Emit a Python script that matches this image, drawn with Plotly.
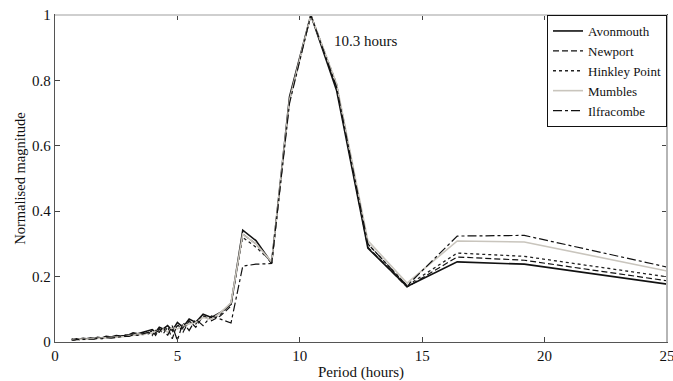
import plotly.graph_objects as go

period = [28.75, 23.0, 19.17, 16.43, 14.38, 12.78, 11.5, 10.45, 9.58, 8.85, 8.21, 7.67, 7.19,
          6.76, 6.39, 6.05, 5.75, 5.48, 5.23, 5.0, 4.79, 4.6, 4.42, 4.26, 4.11, 3.97, 3.83,
          3.59, 3.38, 3.19, 3.03, 2.88, 2.67, 2.5, 2.3, 2.09, 1.92, 1.74, 1.6, 1.44, 1.28,
          1.15, 1.0, 0.88, 0.77, 0.68]

avonmouth = [0.138, 0.198, 0.238, 0.245, 0.170, 0.287, 0.77, 1.0, 0.75, 0.242, 0.31, 0.342, 0.115,
             0.09, 0.075, 0.085, 0.06, 0.07, 0.045, 0.06, 0.035, 0.05, 0.04, 0.045, 0.03, 0.038, 0.035,
             0.03, 0.025, 0.028, 0.022, 0.02, 0.018, 0.02, 0.015, 0.017, 0.012, 0.014, 0.011, 0.012,
             0.01, 0.011, 0.009, 0.01, 0.008, 0.009]
newport = [0.147, 0.209, 0.25, 0.26, 0.168, 0.29, 0.78, 1.0, 0.74, 0.24, 0.30, 0.33, 0.11,
           0.08, 0.065, 0.08, 0.045, 0.065, 0.03, 0.055, 0.01, 0.045, 0.025, 0.04, 0.02, 0.035, 0.025,
           0.028, 0.02, 0.025, 0.018, 0.022, 0.015, 0.018, 0.013, 0.016, 0.01, 0.013, 0.009, 0.011,
           0.008, 0.01, 0.007, 0.008, 0.006, 0.008]
hinkley = [0.159, 0.221, 0.262, 0.272, 0.172, 0.30, 0.79, 1.0, 0.74, 0.245, 0.29, 0.32, 0.12,
           0.085, 0.07, 0.08, 0.055, 0.06, 0.04, 0.05, 0.03, 0.045, 0.035, 0.04, 0.025, 0.035, 0.028,
           0.025, 0.024, 0.022, 0.02, 0.02, 0.016, 0.016, 0.014, 0.014, 0.012, 0.012, 0.01, 0.01,
           0.009, 0.009, 0.008, 0.008, 0.007, 0.007]
mumbles = [0.16, 0.247, 0.306, 0.309, 0.18, 0.31, 0.79, 1.0, 0.74, 0.245, 0.30, 0.33, 0.12,
           0.09, 0.07, 0.075, 0.06, 0.055, 0.05, 0.04, 0.045, 0.03, 0.04, 0.03, 0.035, 0.025, 0.03,
           0.022, 0.025, 0.02, 0.02, 0.017, 0.016, 0.014, 0.014, 0.012, 0.012, 0.01, 0.011, 0.009,
           0.01, 0.008, 0.009, 0.007, 0.008, 0.006]
ilfracombe = [0.167, 0.262, 0.326, 0.324, 0.172, 0.30, 0.78, 1.0, 0.73, 0.24, 0.238, 0.232, 0.058,
              0.07, 0.08, 0.05, 0.07, 0.035, 0.06, 0.005, 0.05, 0.02, 0.045, 0.03, 0.035, 0.02, 0.03,
              0.025, 0.02, 0.022, 0.017, 0.018, 0.015, 0.014, 0.012, 0.013, 0.01, 0.011, 0.009, 0.009,
              0.008, 0.008, 0.007, 0.007, 0.006, 0.006]

x_ticks = [0, 5, 10, 15, 20, 25]
y_ticks = [0, 0.2, 0.4, 0.6, 0.8, 1]

series = [
    ("Avonmouth", avonmouth, dict(color="#111111", width=1.6, dash="solid")),
    ("Newport", newport, dict(color="#111111", width=1.2, dash="6px,3px")),
    ("Hinkley Point", hinkley, dict(color="#222222", width=1.3, dash="dot")),
    ("Mumbles", mumbles, dict(color="#c9c5bd", width=1.6, dash="solid")),
    ("Ilfracombe", ilfracombe, dict(color="#111111", width=1.2, dash="dashdot")),
]

fig = go.Figure()
for name, vals, line in series:
    fig.add_trace(go.Scatter(x=period, y=vals, mode="lines", name=name, line=line))

font = "Liberation Serif, Times New Roman, serif"
fig.update_layout(
    width=673, height=381,
    margin=dict(l=55, r=6, t=15, b=39),
    paper_bgcolor="white", plot_bgcolor="white",
    font=dict(family=font, size=15, color="#111111"),
    showlegend=True,
    legend=dict(x=1, y=1, xanchor="right", yanchor="top",
                bordercolor="#111111", borderwidth=1, bgcolor="white",
                font=dict(family=font, size=13), itemwidth=30,
                tracegroupgap=0),
    xaxis=dict(range=[0, 25], tickvals=x_ticks, ticks="inside", ticklen=5, mirror="ticks",
               showline=True, linecolor="#555555", linewidth=1.3, showgrid=False, zeroline=False,
               automargin=False, ticklabeloverflow="allow",
               title=dict(text="Period (hours)", font=dict(size=15), standoff=3),
               tickfont=dict(size=15)),
    yaxis=dict(range=[0, 1], tickvals=y_ticks, ticks="inside", ticklen=5, mirror="ticks",
               showline=True, linecolor="#555555", linewidth=1.3, showgrid=False, zeroline=False,
               automargin=False,
               title=dict(text="Normalised magnitude", font=dict(size=14.5), standoff=3),
               tickfont=dict(size=15)),
)
# lighter top and right frame lines
fig.add_shape(type="line", xref="x domain", yref="y domain", x0=0, x1=1, y0=1, y1=1,
              line=dict(color="#cfcfcf", width=2), layer="above")
fig.add_shape(type="line", xref="x domain", yref="y domain", x0=1, x1=1, y0=0, y1=1,
              line=dict(color="#b5b5b5", width=2), layer="above")
fig.add_annotation(x=12.7, y=0.92, text="10.3 hours", showarrow=False,
                   font=dict(family=font, size=15, color="#111111"))

fig.write_html("out.html", config={"displayModeBar": False},
               post_script="document.body.style.margin='0';")
